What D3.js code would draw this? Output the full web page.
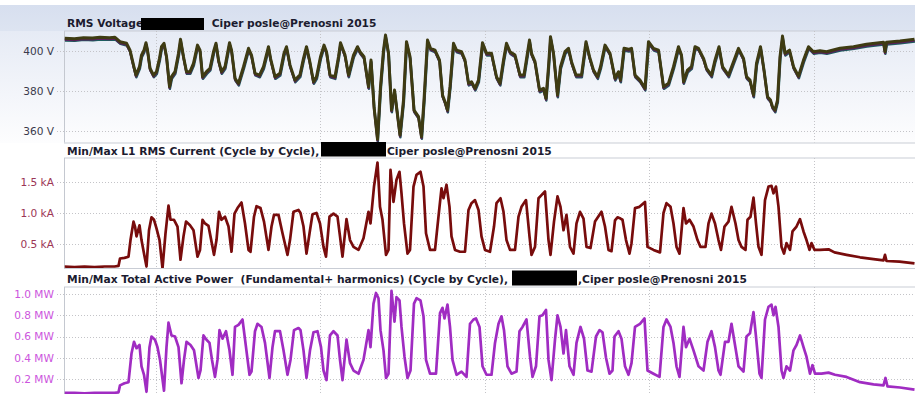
<!DOCTYPE html>
<html><head><meta charset="utf-8">
<script src="https://cdn.jsdelivr.net/npm/d3@7"></script>
<style>
html,body{margin:0;padding:0;background:#fff;}
svg{display:block;}
text{font-family:"DejaVu Sans",Verdana,sans-serif;}
.ttl{font-weight:bold;font-size:10.7px;fill:#1b1b2f;white-space:pre;}
.tick{font-size:10.6px;}
</style></head><body>
<svg id="chart" width="915" height="394"></svg>
<script>
// ---- data (time in hours from start of recording) ----
const voltT = [0,10,19,28,35.5,45,50.5,55.5,62,65.5,69,71.5,75,77,79.5,81.5,83,85.5,89,92,95,97,99.5,102,105,107,110.5,114,116,119,122,125.5,129,133,135.5,138,142,145.5,149,151.5,154,157,160.5,165,167,170.5,174,179,184,187,190.5,195,199,204,206,210.5,215.5,219.5,222,225.5,230.5,235.5,239,242,245,249,252,256,259.5,262,265.5,270.5,274,276,280.5,284,289,293,295.5,299.5,304,306.5,309.5,313,316,319,321,324,327,330,332,335.5,339,342,345.5,349.5,354,357,359.5,363,366,370.5,375,378,380.5,383,385.5,389,392,397,400.5,404,407,410.5,414,418,422,427,432,435.5,439,442,445.5,450.5,455.5,459.5,465,467,470.5,475,479,481.5,484,486,489,493,496,500.5,504,507,511.5,517,521.5,525,529,533,536,540.5,545.5,550.5,554,556,559.5,564,567,570.5,575.5,580.5,584,589,594,599,604,609,614,617,619,623,627,630.5,634,639,642,647,650.5,654.5,658,664,669,674,679,682,685.5,689,692,696,699.5,703,706,708,710.5,713,715.5,718,720.5,725,729,734,739,744,749,755.5,762,775.5,789,802,819,820.5,822,835.5,850];
const voltV = [406.2,406.0,406.5,406.3,406.7,406.5,406.7,404.5,403.7,400.3,392.8,387.8,392,397.8,400.3,404,400.3,391.2,387.8,389.5,396.2,402,403.7,397,382,387,389.5,398.7,405.7,397,389.5,389.5,393.7,402.8,400.3,387,389.5,391.2,399.5,403.7,395.3,389.5,392,404,400.3,386.2,383.7,392,401.2,397.8,388.7,387.8,392,402,396.2,387,388.7,398.7,402,392.8,385.3,388,396.2,402,395.3,384.5,387,397,402.8,399.5,387.8,387,397,404,397.8,387.8,397.8,402,399.5,397,382,395.3,372,355.7,382,400.3,407.8,398.7,370.3,380.3,372,357.8,375.3,404.5,397,370.3,367,357,375.3,405.3,401.2,400.3,395.3,377.8,374.5,370.3,382,403.7,400.3,399.5,395.3,383.7,384.5,381.2,385.3,404,398.7,398.7,387,383.7,395.3,403.7,399.5,397.8,387.8,387.8,405.3,398.7,394.5,380.3,381.2,376.2,392,407,398.7,377.8,392,399.5,401.2,394.5,387.8,387.8,404.5,397,390.3,387,392,402.8,398.7,386.2,389.5,385.3,401.2,400.7,401.2,387.8,385.3,381.2,404.5,401.2,400.3,382,383.7,392,402,397.8,384.5,390.3,392,402,401.2,396.2,391.2,387.8,395.3,402,392,387.8,394.5,401.2,396.2,387,385.3,377.8,393.7,402,390.3,377,375.3,372,370.3,375.3,397,407.3,398.7,400.3,392,387.3,395.3,402,399.5,400,399.5,401.2,402,403.2,404.2,399.5,404.2,404.8,405.7];

const currT = [0,10,20,30,40,50,54,55.5,60,64,66,69,70.5,72,75,77,79.5,82,84.5,87,89.5,92,95,98,101,104,106,109.5,113,116,119,121.5,125.5,129,133,135.5,138,140.5,144,146,149.5,152,154.5,157,160.5,164,167,170,173,177,180.5,184,186,189.5,192,196,199.5,204,207,209.5,214,218,223,225.5,229,234,236,239,242,245.5,248,252,255.5,259,261.5,265,269,273,275.5,278,282,285.5,289,294,299,304,306,309.5,313,315.5,318,321.5,324,326,329,332,335,337,339.5,343,345.5,349,352,356,359,361.5,365.5,370.5,375,377,379,382,385,387,390.5,395.5,400.5,404,407,410.5,414,417,420.5,425.5,429.5,432,436,439,442,445.5,450.5,454,457,461.5,465,467,470.5,474,477,480.5,484,486,489.5,493,496,499,502,505.5,509,512,515.5,519,522,526,530.5,535,537,540.5,544,547,550.5,553,556,558,561.5,565,567,570.5,575,580.5,583,589,595.5,599,602,606,609,612,615,619,621.5,625,629,633,636,641,644,647,650.5,654,656.5,660,664,667,671,674,677,681,683,686,689,691.5,694,697,700.5,704,707,709,711.5,714,717,719.5,722,725.5,728,732,735.5,739,742,745,747,750,755.5,764,770,782,795.5,809,819,820.5,822,835,850];
const currKA = [0.13,0.12,0.13,0.12,0.13,0.13,0.14,0.26,0.27,0.29,0.56,0.86,0.78,0.62,0.80,0.56,0.34,0.13,0.72,0.93,0.89,0.75,0.56,0.10,0.67,1.12,0.89,0.89,0.78,0.24,0.62,0.86,0.80,0.72,0.29,0.40,0.89,0.83,0.79,0.62,0.32,0.56,1.02,0.89,0.94,0.78,0.37,0.99,1.08,1.17,0.83,0.40,0.37,0.94,1.11,1.08,0.86,0.40,0.78,0.97,0.97,0.67,0.32,0.56,1.02,1.05,1.0,0.78,0.34,0.72,0.98,1.0,0.83,0.45,0.29,0.94,0.99,0.94,0.62,0.29,0.90,0.56,0.45,0.40,0.59,1.02,0.83,1.43,1.82,1.10,0.89,0.32,0.40,1.70,1.18,1.54,1.67,1.32,0.83,0.34,0.40,1.43,1.62,1.67,1.43,0.67,0.40,0.40,1.10,1.40,1.24,1.46,1.10,0.62,0.40,0.37,0.37,1.05,1.16,1.21,1.05,0.62,0.40,0.37,0.78,1.16,1.24,1.02,0.56,0.40,0.40,0.94,1.10,1.21,0.62,0.32,0.45,1.24,1.29,1.35,0.56,0.32,0.86,1.27,1.10,0.72,0.97,0.45,0.34,0.83,1.02,0.91,0.45,0.43,0.86,0.97,1.02,0.78,0.40,0.38,0.88,0.93,0.91,0.89,0.56,0.34,0.51,1.08,1.10,1.18,0.45,0.40,0.36,1.0,1.16,1.10,0.83,0.45,0.34,1.08,0.83,0.89,0.78,0.56,0.45,0.45,0.83,0.99,0.83,0.56,0.40,0.78,0.86,1.10,0.83,0.56,0.45,0.40,0.89,0.94,1.25,0.83,0.45,0.32,1.21,1.43,1.44,1.32,1.43,1.10,0.45,0.34,0.51,0.40,0.70,0.78,0.90,0.70,0.56,0.40,0.51,0.40,0.40,0.41,0.36,0.32,0.28,0.25,0.23,0.32,0.22,0.21,0.18];

const powT = [0,10,20,30,40,50,54,55.5,60,64,67,69.5,72,75,77,79.5,82,85,87,90.5,93,95.5,99.5,102,104,107,110.5,114,117,119.5,122,126,129.5,134,136,139,142,145,147.5,150.5,153,155,158,161.5,165,168,170.5,174,178,181.5,185,187,190.5,193,197,200.5,205,208,210.5,215.5,219,223,226,229.5,234,236,239,242,245.5,249,253,256.5,259,262,265.5,269,273,275.5,278,282,285.5,289,294,299,304,306,309,311.5,314,316,319,321.5,324,327,330,332,335,337,340,343,346,349.5,352,356,359,361.5,365.5,371.5,375.5,378,380,383,385.5,388,392,397,402,405.5,409,411.5,415,418,422,427,430.5,434,437,439.5,443,447,452,455,458,462,465.5,468,471.5,475,478,481.5,484,487,490.5,493,496,499,501.5,505,509,512,516,519.5,523,527,531.5,535,538,541.5,545,548,550,554,557,560.5,564,567,570.5,575.5,580,583,589,595,599,602,606,609,612,615,619,621.5,625,629,634,639,643,647,650.5,654,656,660.5,664,667,670.5,674,679,682,685.5,689,691.5,695,697,700.5,704,707,709,711,714,717,719,722,725.5,729,732,735.5,739,742,745.5,748,750.5,757,764,770.5,782,795.5,809,819,821,823,835.5,850];
const powMW = [0.07,0.07,0.065,0.07,0.07,0.07,0.075,0.14,0.16,0.17,0.44,0.55,0.49,0.52,0.32,0.24,0.08,0.50,0.60,0.57,0.50,0.38,0.09,0.50,0.73,0.61,0.60,0.50,0.16,0.38,0.55,0.52,0.47,0.21,0.28,0.61,0.57,0.54,0.38,0.22,0.38,0.66,0.58,0.65,0.47,0.24,0.69,0.71,0.76,0.50,0.24,0.27,0.65,0.72,0.69,0.54,0.21,0.50,0.65,0.65,0.47,0.24,0.38,0.66,0.68,0.66,0.47,0.21,0.47,0.64,0.65,0.50,0.28,0.19,0.61,0.65,0.61,0.38,0.19,0.57,0.35,0.28,0.25,0.38,0.66,0.50,0.91,1.01,0.96,0.66,0.47,0.21,0.25,1.03,0.74,0.97,0.94,0.69,0.41,0.21,0.28,0.91,0.96,0.94,0.79,0.38,0.25,0.25,0.82,0.87,0.77,0.90,0.69,0.38,0.24,0.27,0.22,0.72,0.76,0.77,0.69,0.32,0.24,0.24,0.54,0.72,0.79,0.66,0.32,0.25,0.27,0.65,0.69,0.76,0.41,0.22,0.32,0.79,0.80,0.85,0.38,0.19,0.57,0.80,0.69,0.44,0.66,0.32,0.24,0.54,0.69,0.58,0.28,0.27,0.60,0.66,0.64,0.40,0.25,0.28,0.60,0.65,0.58,0.32,0.24,0.35,0.69,0.72,0.77,0.28,0.25,0.22,0.69,0.76,0.69,0.54,0.32,0.22,0.69,0.50,0.58,0.47,0.32,0.28,0.55,0.65,0.50,0.28,0.24,0.55,0.55,0.72,0.52,0.32,0.27,0.60,0.63,0.83,0.60,0.25,0.21,0.76,0.88,0.90,0.80,0.88,0.69,0.28,0.21,0.32,0.28,0.47,0.52,0.61,0.50,0.41,0.25,0.33,0.25,0.25,0.26,0.24,0.22,0.17,0.15,0.14,0.21,0.13,0.12,0.10];

const voltTicks = [360, 380, 400];
const voltTickLabels = ["360 V", "380 V", "400 V"];
const currTicks = [0.5, 1.0, 1.5];
const currTickLabels = ["0.5 kA", "1.0 kA", "1.5 kA"];
const powTicks = [0.2, 0.4, 0.6, 0.8, 1.0];
const powTickLabels = ["0.2 MW", "0.4 MW", "0.6 MW", "0.8 MW", "1.0 MW"];
const gridHours = [91.5, 256, 420.5, 584.5, 749];
const titles = [
  ["RMS Voltage", " Ciper posle@Prenosni 2015"],
  ["Min/Max L1 RMS Current (Cycle by Cycle),", "Ciper posle@Prenosni 2015"],
  ["Min/Max Total Active Power  (Fundamental+ harmonics) (Cycle by Cycle),", ",Ciper posle@Prenosni 2015"]
];

// ---- drawing ----
const svg = d3.select("#chart");
const W = 915;
const x = d3.scaleLinear().domain([0, 850]).range([64.5, 914.5]);
const defs = svg.append("defs");

const g1 = defs.append("linearGradient").attr("id","bgTop").attr("x1",0).attr("y1",0).attr("x2",0).attr("y2",1);
g1.append("stop").attr("offset","0%").attr("stop-color","#e6ebf5");
g1.append("stop").attr("offset","100%").attr("stop-color","#fdfdfe");
const g0 = defs.append("linearGradient").attr("id","hdr").attr("x1",0).attr("y1",0).attr("x2",0).attr("y2",1);
g0.append("stop").attr("offset","0%").attr("stop-color","#d7dfef");
g0.append("stop").attr("offset","100%").attr("stop-color","#dde4f1");

svg.append("rect").attr("x",0).attr("y",5).attr("width",W).attr("height",26).attr("fill","url(#hdr)");
svg.append("rect").attr("x",0).attr("y",31).attr("width",W).attr("height",112).attr("fill","url(#bgTop)");

const panels = [
  {top:31, bottom:142.5, titleY:26.5, dom:[354.1, 409.85], ticks:voltTicks, labels:voltTickLabels, tickColor:"#3a3a4c",
   box:[141,18,63,12], afterX:208},
  {top:158, bottom:268, titleY:154.5, dom:[0.106, 1.894], ticks:currTicks, labels:currTickLabels, tickColor:"#9c3656",
   box:[321,142,65,14.5], afterX:387},
  {top:287, bottom:394, titleY:283, dom:[0.059, 1.066], ticks:powTicks, labels:powTickLabels, tickColor:"#cc55dd",
   box:[512,270.5,65,15], afterX:578}
];
panels.forEach((p,i)=>{
  p.y = d3.scaleLinear().domain(p.dom).range([p.bottom, p.top]);
  defs.append("clipPath").attr("id","clip"+i).append("rect")
    .attr("x",64.5).attr("y",p.top).attr("width",W-64.5).attr("height",p.bottom-p.top);
});

// borders
const borderColor = "#c9cdd5";
[[31],[143],[158],[268.5],[287]].forEach(([yy])=>{
  svg.append("line").attr("x1",64).attr("x2",W).attr("y1",yy).attr("y2",yy)
    .attr("stroke",borderColor).attr("stroke-width",1);
});
panels.forEach(p=>{
  svg.append("line").attr("x1",64.5).attr("x2",64.5).attr("y1",p.top).attr("y2",p.bottom)
    .attr("stroke","#c4c8d0");
});

// grids
panels.forEach(p=>{
  const gg = svg.append("g");
  gg.selectAll("line.h").data(p.ticks).join("line")
    .attr("x1",57).attr("x2",W)
    .attr("y1",d=>Math.round(p.y(d))+0.5).attr("y2",d=>Math.round(p.y(d))+0.5)
    .attr("stroke","#c4c4c8").attr("stroke-dasharray","1,2");
  gg.selectAll("line.v").data(gridHours).join("line")
    .attr("x1",d=>Math.round(x(d))+0.5).attr("x2",d=>Math.round(x(d))+0.5)
    .attr("y1",p.top).attr("y2",p.bottom)
    .attr("stroke","#c4c4c8").attr("stroke-dasharray","1,2");
  gg.selectAll("text").data(p.ticks).join("text")
    .attr("class","tick").attr("x",54).attr("y",d=>p.y(d)).attr("dy","0.36em")
    .attr("text-anchor","end").attr("fill",p.tickColor)
    .text((d,k)=>p.labels[k]);
});

// series
function pts(T,V){ return T.map((t,k)=>[t,V[k]]); }
const voltData = pts(voltT, voltV);
const currData = pts(currT, currKA);
const powData = pts(powT, powMW);

function lineFor(p){ return d3.line().x(d=>x(d[0])).y(d=>p.y(d[1])).curve(d3.curveLinear); }

const gv = svg.append("g").attr("clip-path","url(#clip0)");
gv.append("path").datum(voltData).attr("d",lineFor(panels[0])).attr("fill","none")
  .attr("stroke","#1d5d5f").attr("stroke-width",2.4).attr("transform","translate(0.4,2.2)").attr("stroke-linejoin","round");
gv.append("path").datum(voltData).attr("d",lineFor(panels[0])).attr("fill","none")
  .attr("stroke","#5a1f5e").attr("stroke-width",2.4).attr("transform","translate(0,1.3)").attr("stroke-linejoin","round");
gv.append("path").datum(voltData).attr("d",lineFor(panels[0])).attr("fill","none")
  .attr("stroke","#3e3b12").attr("stroke-width",3).attr("stroke-linejoin","round");

svg.append("g").attr("clip-path","url(#clip1)").append("path").datum(currData)
  .attr("d",lineFor(panels[1])).attr("fill","none")
  .attr("stroke","#780c0c").attr("stroke-width",2.7).attr("stroke-linejoin","round");

svg.append("g").attr("clip-path","url(#clip2)").append("path").datum(powData)
  .attr("d",lineFor(panels[2])).attr("fill","none")
  .attr("stroke","#a02cc2").attr("stroke-width",2.7).attr("stroke-linejoin","round");

// titles
panels.forEach((p,i)=>{
  svg.append("text").attr("class","ttl").attr("x",67).attr("y",p.titleY).text(titles[i][0]);
  svg.append("rect").attr("x",p.box[0]).attr("y",p.box[1]).attr("width",p.box[2]).attr("height",p.box[3]).attr("fill","#000");
  svg.append("text").attr("class","ttl").attr("x",p.afterX).attr("y",p.titleY).text(titles[i][1]);
});
</script>
</body></html>
